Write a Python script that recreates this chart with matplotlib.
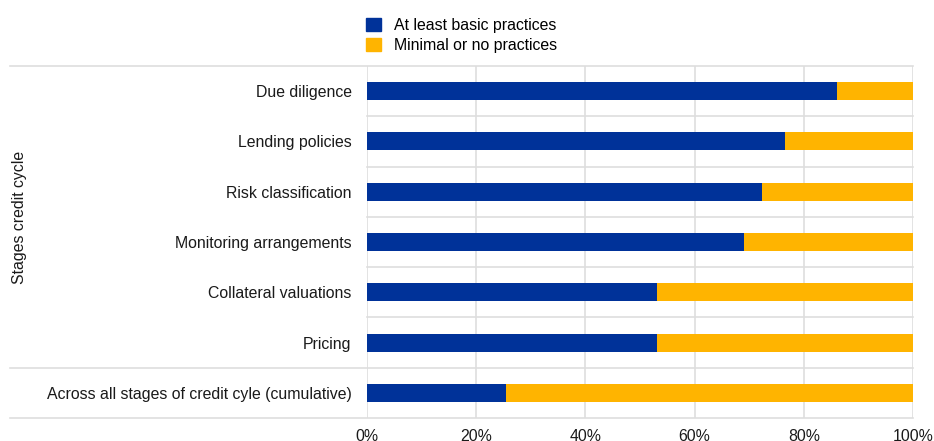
import matplotlib
matplotlib.use("Agg")
import matplotlib.pyplot as plt
from matplotlib.patches import Patch
from matplotlib.transforms import blended_transform_factory

plt.rcParams['font.family'] = ['Liberation Sans', 'DejaVu Sans']

categories = [
    "Due diligence",
    "Lending policies",
    "Risk classification",
    "Monitoring arrangements",
    "Collateral valuations",
    "Pricing",
    "Across all stages of credit cyle (cumulative)",
]
basic = [86.1, 76.6, 72.3, 69.0, 53.1, 53.1, 25.5]
minimal = [100 - v for v in basic]
series_names = ["At least basic practices", "Minimal or no practices"]
x_ticks = [0, 20, 40, 60, 80, 100]

BLUE = "#003299"
YELLOW = "#FFB400"
GRID = "#dedede"
FS = 11.4

W, H = 934, 441
fig = plt.figure(figsize=(W / 100, H / 100), dpi=100)
ax = fig.add_axes([367 / W, 1 - 418 / H, 546 / W, 352 / H])

y = list(range(len(categories)))
ax.barh(y, basic, height=0.36, color=BLUE, zorder=3)
ax.barh(y, minimal, left=basic, height=0.36, color=YELLOW, zorder=3)

ax.set_xlim(0, 100)
ax.set_ylim(len(categories) - 0.5, -0.5)
ax.set_xticks(x_ticks)
ax.set_xticklabels([f"{t}%" for t in x_ticks])
ax.set_yticks(y)
ax.set_yticklabels(categories)
ax.tick_params(axis="both", length=0, labelsize=FS, colors="#1a1a1a")
ax.tick_params(axis="y", pad=11)
ax.tick_params(axis="x", pad=8)
for s in ax.spines.values():
    s.set_visible(False)
ax.xaxis.grid(True, color=GRID, linewidth=1.2, zorder=0)

# row separators; group borders reach out to the left edge
trans = blended_transform_factory(ax.transAxes, ax.transData)
x_left = (10 - 367) / 546
for k in range(len(categories) + 1):
    yy = k - 0.5
    x0 = x_left if k in (0, len(categories) - 1, len(categories)) else 0
    ax.plot([x0, 1], [yy, yy], transform=trans, color=GRID,
            linewidth=1.2, clip_on=False, zorder=1)

fig.text(20 / W, 1 - 217 / H, "Stages credit cycle", rotation=90,
         ha="center", va="center", fontsize=FS, color="#1a1a1a")

handles = [Patch(color=BLUE), Patch(color=YELLOW)]
fig.legend(handles, series_names, loc="upper left",
           bbox_to_anchor=(360 / W, 1 - 12 / H), frameon=False,
           fontsize=FS, handlelength=0.9, handleheight=0.9,
           handletextpad=0.85, labelspacing=0.3, borderaxespad=0)

fig.savefig("out.png", dpi=100)
